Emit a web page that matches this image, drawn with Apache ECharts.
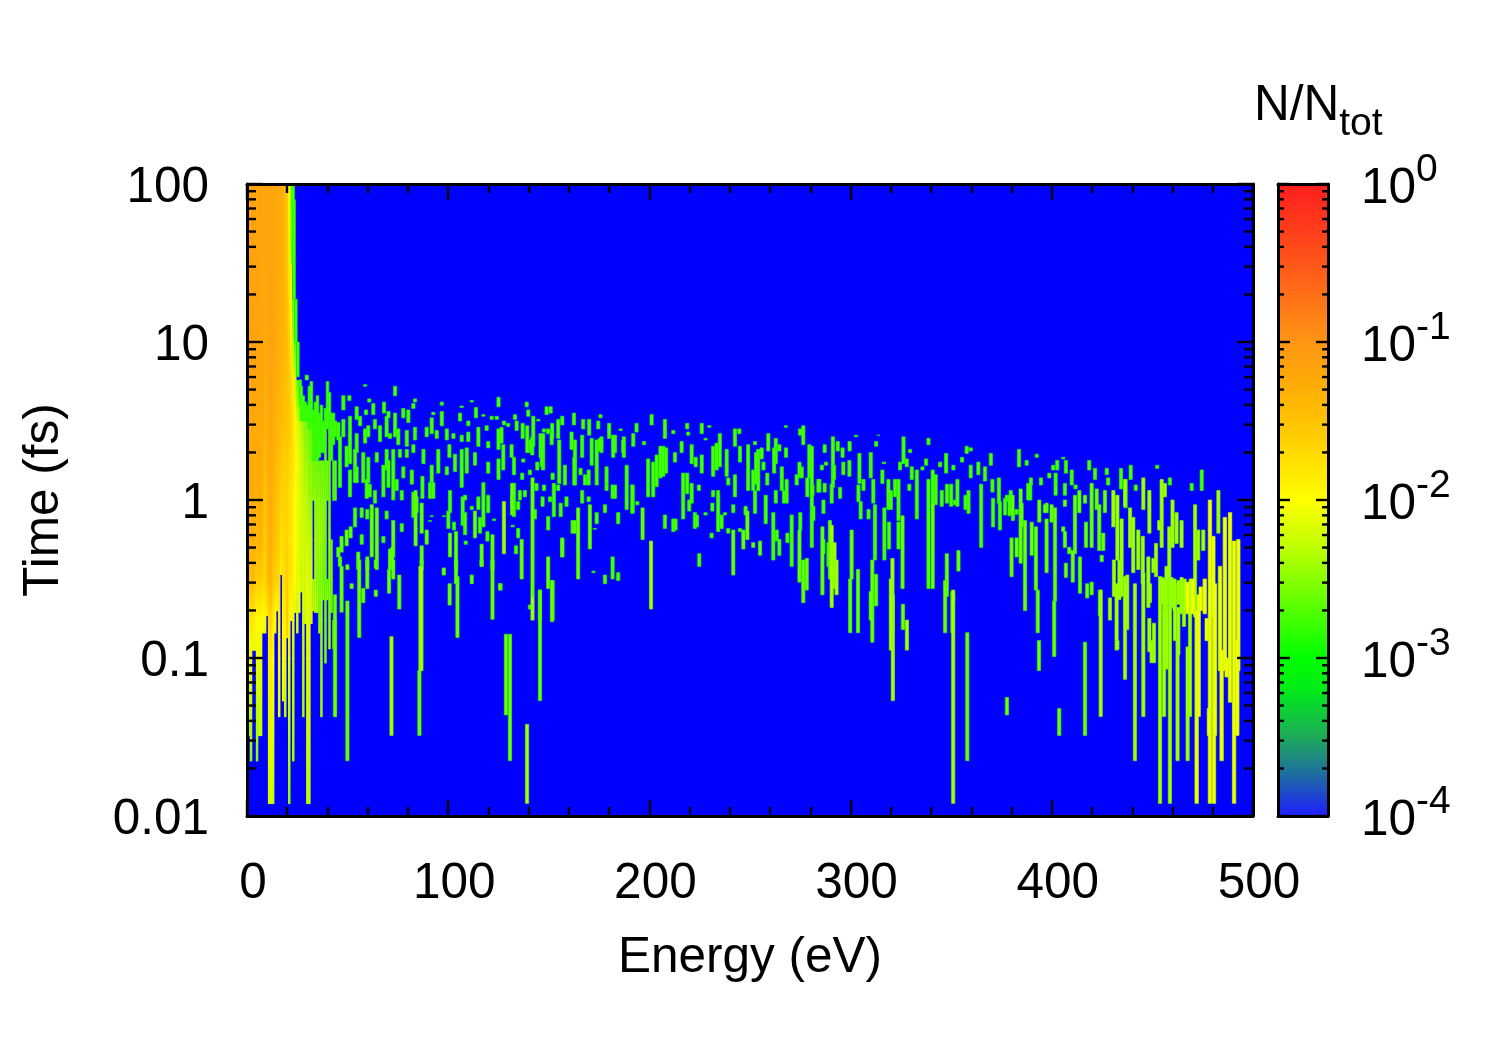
<!DOCTYPE html>
<html><head><meta charset="utf-8">
<script src="https://cdn.jsdelivr.net/npm/echarts@6/dist/echarts.min.js"></script>
<style>html,body{margin:0;background:#fff}#c{width:1500px;height:1050px}</style></head>
<body><div id="c"></div>
<script>
const xTickLabels=['0','100','200','300','400','500'];
const timeTickLabels={'-2':'0.01','-1':'0.1','0':'1','1':'10','2':'100'};
const minorTimeTicks=[0.02,0.03,0.04,0.05,0.06,0.07,0.08,0.09,0.2,0.3,0.4,0.5,0.6,0.7,0.8,0.9,2,3,4,5,6,7,8,9,20,30,40,50,60,70,80,90];
const minorBarTicks=[2e-4,3e-4,4e-4,5e-4,6e-4,7e-4,8e-4,9e-4,2e-3,3e-3,4e-3,5e-3,6e-3,7e-3,8e-3,9e-3,2e-2,3e-2,4e-2,5e-2,6e-2,7e-2,8e-2,9e-2,.2,.3,.4,.5,.6,.7,.8,.9];
// colour scale stops: log10(N/Ntot), colour
const scaleLogN=[-4,-3.75,-3.5,-3.2,-3,-2.6,-2.3,-2,-1.6,-1.3,-1,-0.5,0];
const scaleColors=[[30,30,255],[30,105,165],[30,170,90],[0,235,25],[0,255,0],[110,255,0],[190,255,0],[255,255,0],[255,205,0],[255,175,5],[255,150,20],[255,85,25],[255,30,30]];

// low-energy ridge: log10(time) knots and log10(N/Ntot) per 1 eV column
const ridgeLogTime=[2,1.27,1,0.76,0.5,0.25,0,-0.25,-0.5,-0.76,-1];
const ridgeEnergy=[0,1,2,3,4,5,6,7,8,9,10,11,12,13,14,15,16,17,18,19,20,21,22,23,24,25,26,27,28,29,30,31,32,33,34,35,36,37,38,39,40,41,42,43,44];
const ridgeBottomLogTime=[-1.49,-1.49,-1.65,-0.95,-0.95,-1.65,-1.49,-1.49,-0.84,-0.84,-0.73,-1.92,-1.92,-1.92,-0.84,-0.7,-1.37,-0.47,-1.27,-1.37,-0.87,-1.92,-0.76,-1.65,-0.71,-0.84,-0.71,-0.58,-1.37,-0.78,-1.92,-1.92,-0.78,-0.7,-0.71,-0.71,-0.84,-1.37,-0.63,-1.03,-0.63,-0.94,-0.71,-0.94,-1.37];
const ridgeTailLogN=[-2.4,-2.4,-2.5,-2.1,-2.1,-2.5,-2.35,-2.3,-2.1,-2.1,-1.9,-2.25,-2.2,-2.3,-2.1,-2,-2.1,-1.9,-2.15,-2.3,-1.7,-2.5,-2,-2.4,-2.1,-2.2,-2.1,-2.2,-2.4,-2.2,-2.3,-2.3,-2.2,-2.3,-2.3,-2.3,-2.4,-2.4,-2.5,-2.5,-2.5,-2.4,-2.6,-2.6,-2.6];
const ridgeLogN=[
[-1.2,-1.2,-1.2,-1.25,-1.25,-1.3,-1.35,-1.4,-1.55,-1.9,-2.1],
[-1.2,-1.2,-1.2,-1.2,-1.2,-1.3,-1.3,-1.4,-1.5,-1.85,-2],
[-1.15,-1.15,-1.15,-1.2,-1.25,-1.25,-1.25,-1.3,-1.45,-1.8,-2.05],
[-1.15,-1.15,-1.2,-1.2,-1.2,-1.25,-1.25,-1.3,-1.4,-1.8,null],
[-1.15,-1.2,-1.15,-1.15,-1.25,-1.3,-1.3,-1.35,-1.5,-1.9,null],
[-1.2,-1.15,-1.15,-1.2,-1.2,-1.25,-1.3,-1.4,-1.6,-2,-2.1],
[-1.15,-1.15,-1.2,-1.2,-1.25,-1.25,-1.25,-1.35,-1.55,-1.95,-2.1],
[-1.15,-1.15,-1.15,-1.15,-1.2,-1.2,-1.25,-1.3,-1.6,-2,-2.1],
[-1.2,-1.2,-1.2,-1.2,-1.2,-1.3,-1.4,-1.45,-1.65,-2,null],
[-1.15,-1.2,-1.25,-1.3,-1.35,-1.4,-1.5,-1.6,-1.7,-1.95,null],
[-1.2,-1.2,-1.2,-1.25,-1.3,-1.35,-1.4,-1.45,-1.5,null,null],
[-1.15,-1.15,-1.2,-1.2,-1.2,-1.25,-1.3,-1.3,-1.4,-1.7,-1.85],
[-1.15,-1.15,-1.15,-1.15,-1.2,-1.25,-1.25,-1.3,-1.35,-1.65,-1.85],
[-1.2,-1.15,-1.15,-1.2,-1.25,-1.3,-1.35,-1.4,-1.5,-1.85,-2],
[-1.2,-1.2,-1.2,-1.25,-1.3,-1.35,-1.4,-1.5,-1.6,-2,null],
[-1.2,-1.25,-1.25,-1.3,-1.35,-1.45,-1.5,-1.55,-1.65,null,null],
[-1.25,-1.25,-1.3,-1.3,-1.4,-1.45,-1.55,-1.6,-1.7,-1.9,-2],
[-1.25,-1.3,-1.3,-1.35,-1.4,-1.55,-1.65,-1.75,null,null,null],
[-1.3,-1.3,-1.35,-1.4,-1.45,-1.6,-1.65,-1.7,-1.75,-1.9,-2],
[-1.4,-1.4,-1.4,-1.45,-1.5,-1.6,-1.65,-1.7,-1.7,-1.9,-2.1],
[-1.55,-1.5,-1.45,-1.5,-1.5,-1.6,-1.65,-1.65,-1.6,-1.55,null],
[-1.95,-1.7,-1.6,-1.55,-1.55,-1.65,-1.75,-1.75,-1.75,-1.85,-2.1],
[-2.5,-2,-1.85,-1.7,-1.65,-1.7,-1.8,-1.8,-1.8,-2,null],
[null,-2.65,-2.35,-1.9,-1.8,-1.8,-1.9,-1.9,-1.9,-2.1,-2.25],
[null,null,-2.7,-2.2,-1.95,-1.9,-2,-2,-2,null,null],
[null,null,null,-2.55,-2.1,-2,-2.05,-2.05,-2.1,-2.2,null],
[null,null,null,-2.7,-2.2,-2.1,-2.1,-2.1,-2.1,null,null],
[null,null,null,null,-2.3,-2.2,-2.2,-2.2,-2.2,null,null],
[null,null,null,null,-2.45,-2.3,-2.25,-2.2,-2.2,-2.25,-2.3],
[null,null,null,null,-2.5,-2.4,-2.25,-2.2,-2.2,-2.2,null],
[null,null,null,null,-2.55,-2.4,-2.3,-2.2,-2.1,-2.1,-2.15],
[null,null,null,null,-2.6,-2.5,-2.4,-2.25,-2.15,-2.1,-2.15],
[null,null,null,null,-2.6,-2.5,-2.45,-2.3,-2.2,-2.2,null],
[null,null,null,null,null,-2.55,-2.45,null,-2.4,null,null],
[null,null,null,null,-2.65,-2.6,-2.45,-2.4,-2.4,null,null],
[null,null,null,null,null,-2.55,-2.5,-2.4,-2.5,null,null],
[null,null,null,null,null,-2.65,-2.45,-2.4,-2.5,-2.6,null],
[null,null,null,null,null,-2.6,-2.5,-2.4,-2.5,-2.45,-2.45],
[null,null,null,null,null,-2.6,-2.5,-2.5,-2.6,null,null],
[null,null,null,null,-2.7,-2.65,-2.5,-2.55,-2.6,-2.6,null],
[null,null,null,null,null,-2.6,-2.6,null,-2.6,null,null],
[null,null,null,null,-2.7,-2.65,-2.6,-2.5,-2.55,-2.5,null],
[null,null,null,null,null,-2.7,null,-2.65,-2.6,null,null],
[null,null,null,null,null,-2.7,-2.7,null,null,-2.6,null],
[null,null,null,null,null,-2.7,-2.7,null,null,-2.65,-2.6]];

// streaks: [energy eV, log10 time at top, log10 time at bottom]
const edgeStreaks=[[22.9,2,1.5],[23.4,1.9,1.27],[24.3,1.27,1],[25.3,1,0.78],[26.5,0.76,0.6],[27,.72,.5],[28,.66,.5],[29,.62,.5],[30,.6,.5],[31,.72,.45],[32,.75,.5],[33,.57,.25],[34,.62,.5],[35,.66,.25],[36,.55,.27],[37,.6,.3],[38,.5,.3],[39,.58,.5],[40,.75,.45],[41,.68,.5],[42,.55,.25],[43,.55,.35],[44,.5,.4]];
const greenStreaks=[
[29.7,.79,.76],[47.9,.66,.57],[50.9,.66,.63],[58.7,.73,.72],[60.8,.64,.62],[62.8,.61,.54],[68.1,.62,.55],[73.6,.72,.66],[83.5,.64,.62],[82.7,.61,.58],[96.8,.62,.6],[106.7,.595,.585],[111.7,.63,.62],[125,.65,.59],[113.8,.585,.52],[117.5,.54,.53],[121.6,.53,.51],[124.1,.53,.51],
[54.5,.59,.51],[59.2,.57,.54],[63.6,.51,.45],[70.3,.56,.52],[73.6,.55,.4],[77.7,.58,.52],[80.2,.57,.49],[92.6,.555,.54],[96.8,.56,.47],[105.9,.55,.5],[110,.5,.47],[119.1,.47,.44],
[45.4,.49,.38],[47.9,.51,.4],[51.2,.53,.23],[54.5,.42,.3],[56.2,.53,.47],[58.7,.45,.36],[60.3,.47,.4],[66.1,.47,.37],[69.4,.53,.4],[71.1,.42,.39],[75.2,.45,.35],[79.4,.44,.34],[83.5,.46,.38],[89.3,.46,.4],[91.8,.52,.42],[94.3,.44,.39],[99.3,.45,.38],[102.6,.42,.39],[106.7,.41,.37],[110,.43,.37],[115,.46,.34],[119.9,.37,.33],[125,.45,.32],
[46.2,.4,.08],[49.5,.34,.21],[53.7,.32,.11],[57.8,.3,.11],[60.3,.27,.11],[64.5,.3,.24],[69.4,.32,.19],[72.7,.32,0],[76,.32,.27],[79.4,.32,.27],[82.7,.35,.3],[87.7,.32,.23],[91.8,.22,.11],[95.1,.32,.17],[99.3,.21,.16],[100.6,.35,.27],[103.4,.29,.18],[106.7,.32,.08],[109.2,.33,.17],[113.3,.3,.22],[119.9,.24,.17],[125,.26,.13],
[77.7,.21,.14],[81.9,.19,.1],[51.2,.19,.02],[54.5,.21,.11],[59.5,.13,.01],[67.8,.22,.02],[70.3,.25,.08],[74.4,.13,.06],[87.2,.15,.01],[91,.11,.01],[92.6,.11,.01],[100.9,.06,-.08],[107.2,.02,-.16],[108.4,.03,0],[115,.02,-.06],[117.5,.11,-.17],[119.9,.03,-.08],
[61,.1,.02],[63.6,.06,-.02],[76.9,.06,0],[82.7,.05,-.11],[84.3,.02,-.08],[53.7,-.05,-.17],[57,-.05,-.11],[59.8,-.06,-.12],[69.4,-.07,-.12],[76.9,-.15,-.2],[91.8,-.1,-.105],[97.9,-.1,-.105],[91,-.13,-.135],[100.1,-.07,-.18],[102.9,-.14,-.19],[108.4,-.08,-.22],[108.7,-.26,-.28],[111.7,-.04,-.06],[115.8,-.11,-.21],[119.5,-.2,-.26],[122.8,-.12,-.13],[57,-.22,-.28],[67.8,-.23,-.27],
// 125 - 255 eV
[139,.62,.59],[139.8,.57,.53],[148.9,.59,.54],[150.9,.59,.55],[133.2,.54,.51],[134,.5,.44],[137,.485,.39],[139.3,.47,.3],[142.3,.53,.34],[141.8,.4,.285],[141,.38,.3],[145.9,.42,.27],[147.2,.42,.19],[146.5,.32,.21],[154.7,.51,.39],[156.7,.53,.475],[151.7,.485,.39],[149.7,.45,.42],[147.6,.45,.43],[144.8,.51,.5],[162.5,.55,.475],[167.1,.51,.45],[170.1,.51,.41],[174.6,.5,.45],[175.7,.54,.52],[180,.485,.39],[185.7,.45,.44],[193.6,.485,.43],[192,.42,.34],[187.3,.40,.27],[182.9,.41,.3],[201.1,.54,.475],[207.7,.51,.39],[211.9,.44,.42],[218.8,.485,.45],[219.3,.43,.41],[226,.485,.42],[229.8,.47,.46],[126.5,.46,.36],[127.7,.5,.475],[129.8,.485,.465],
[161.3,.43,.32],[163,.38,.095],[166.6,.41,.27],[171.3,.39,.22],[173.8,.38,.095],[176.2,.4,.3],[178.7,.21,.095],[175.4,.39,.31],[182,.41,.27],[187,.38,.3],[197.3,.37,.35],[205.5,.34,.14],[206.9,.34,.15],[208.3,.33,.17],[212.7,.3,.24],[216,.37,.3],[221,.35,.23],[223,.27,.21],[226,.285,.17],[227.9,.39,.38],[231.7,.34,.15],[233.4,.36,.19],[235,.42,.21],[238.4,.32,.15],[242.5,.45,.34],[244.7,.45,.42],[245,.34,.24],[249.1,.35,.06],[252.5,.37,.35],[251.6,.19,.06],[254.1,.32,.06],[253,.3,.1],
[127.4,.35,.19],[131.5,.35,.27],[132.7,.27,.16],[137.3,.26,.24],[144.3,.24,.19],[151.4,.42,.35],[155.2,.38,.105],[158,.22,.095],[136.8,.17,.13],[140.6,.19,.16],[151.9,.17,.13],[162.7,.27,.095],[165.8,.2,.16],[168,.16,.095],[169.8,.19,.095],
[181.7,.095,.01],[191.6,.095,-.085],[188.7,.22,-.06],[199.4,.26,.02],[201.9,.24,.02],[203.6,.285,.085],
[216.8,.17,-.12],[218.8,.17,.04],[221,.105,-.02],[224.6,.095,.06],[231.7,.06,.02],[234.2,.06,-.2],[235.9,-.095,-.18],[239.2,.14,.095],[242.5,.16,.02],[252.5,.06,-.085],[241.7,-.03,-.08],
[132.7,.105,-.105],[135.6,.06,0],[138.1,.06,.02],[143.9,.105,.06],[147.6,.095,.06],[154.7,.095,.06],[152.5,.105,-.105],[155.9,-.02,-.105],[158.8,.02,-.04],[146.9,.02,-.04],[150.6,.02,-.01],[131.8,.02,-.05],[134.8,-.01,-.06],[166.6,.06,-.02],[169.8,.02,-.01],[178.7,.095,.06],[182.9,.095,.01],[177.9,-.03,-.08],[191.6,.095,-.08],[194,-.01,-.03],[173.8,-.08,-.15],[184.5,-.08,-.15],[207.7,-.095,-.18],[211.9,-.12,-.2],[213,-.12,-.19],[219.8,0,-.07],[222.6,-.08,-.18],[223.6,-.095,-.17],[231.3,-.02,-.07],[227.9,-.08,-.095],[237.6,-.08,-.095],[239.2,-.18,-.21],[245,-.18,-.2],[247.8,-.04,-.095],[230.9,-.21,-.24],[224.8,-.34,-.42],[149.7,-.105,-.19],[143.1,-.06,-.12],[161.8,-.13,-.21],[132,-.16,-.17],[134.8,-.18,-.24],[133.7,-.29,-.34],[172.9,-.18,-.185],[181.7,-.36,-.5],[184.5,-.46,-.51],[177.9,-.475,-.53],[172.2,-.45,-.46],[140.6,-.665,-.69],[126,-.53,-.57],[156.7,-.25,-.36],
// 255 - 380 eV
[267.8,.47,.46],[276.5,.47,.35],[274.9,.45,.41],[259.1,.42,.31],[262.8,.39,.23],[264.6,.35,.31],[255.8,.33,.26],[256.7,.24,.19],[262,.33,.17],[265.8,.21,.06],[267.9,.33,.27],[274.6,.24,.14],[275.7,.21,.14],[279.5,.35,.14],[258.6,.17,.095],[273.2,.16,.095],[268.2,.13,-.02],[281.1,.095,.03],[287.1,.105,.05],[280.7,.34,-.3],[278.5,.14,.02],[287.8,.24,.22],[285.7,.22,.19],[284.5,.13,.05],[284,.13,.05],[287.1,.35,.3],[291.2,.4,.08],[293.6,.37,.31],[296,.33,.27],[299.5,.37,.31],[302.7,.41,.4],[296.4,.24,.16],[299.4,.25,.15],[291.8,.22,.13],[294.8,.08,.01],[290.6,.1,-.02],[286.5,0,-.085],[281.5,-.04,-.13],[257.8,.03,-.15],[262.8,.06,-.02],[266.9,.06,-.02],
[304.4,.295,.105],[303.9,.095,-.01],[305,-.01,-.12],[308.9,-.06,-.12],[306.4,.13,.06],[310,.3,.14],[311.3,.13,-.02],[312.7,.37,.34],[313.8,.41,.41],[316.6,.24,.23],[315.8,.19,.105],[318.8,.13,-.06],[320,.06,-.06],[323.8,.13,-.13],[322.1,.13,.02],[326.3,.4,.23],[324.6,.24,.19],[327.9,.26,.21],[329.6,.32,.3],[332.9,.19,-.12],[330.4,.21,.13],[329.2,.1,.06],[335.7,.21,.19],[337.5,.26,.22],[338.7,.39,.35],[338.7,.13,-.56],[340.8,.19,-.02],[342.3,.16,-.03],[344.5,.24,.21],[347.5,.295,.17],[345.3,.06,-.04],[347.9,.1,-.02],[350,.1,-.04],[353.1,.13,-.04],[351.1,.22,.19],[355.4,.27,.24],[357.7,.34,.295],[359.7,.33,.31],[359.7,.22,.14],[363.5,.24,.16],[366.8,.21,.12],[358.6,.06,-.085],[357.1,.03,-.06],[351.9,0,-.03],[364.9,.1,-.3],[369.7,.295,.22],[370.5,.13,.05],[373.7,.14,-.02],[376.8,.01,-.095],[379.6,.06,0],[377.6,.03,-.01],[382.5,-.06,-.09],
[370.8,.01,-.17],[374.2,-.01,-.19],[379,.03,-.1],[380.7,-.085,-.13],
[261.6,-.08,-.38],[263.3,-.19,-.26],[264.6,-.25,-.35],[268.6,-.21,-.27],[270.7,-.095,-.42],[275,-.08,-.19],[286.5,-.25,-.34],[289,-.27,-.42],[312.1,-.03,-.38],[316.8,-.05,-.38],[319.1,-.14,-.31],[323.8,-.14,-.31],
// 380 - 500 eV, upper part
[383.7,.32,.21],[387.5,.25,.22],[392.5,.29,.27],[402.7,.25,.19],[400.7,.22,.19],[405.7,.27,.26],[407,.25,.17],[409.9,.19,.095],[418.6,.25,.19],[388.3,.105,0],[389.3,.105,0],[389.6,.14,.095],[394.6,.14,.095],[398.8,.17,.14],[401.9,.17,.03],[406.5,.105,.03],[411.8,.095,.07],[421.5,.2,.13],[427.3,.2,.16],[428,.14,.095],[434.4,.2,.07],[436.7,.13,-.05],[439.2,.22,.13],[441.7,.095,.06],[452.4,.22,.2],[458.7,.14,.095],[469.5,.105,.06],[474.5,.19,.06]
];
const limeStreaks=[
[49.5,-.19,-.29],[51.5,-.17,-.24],[47,-.23,-.33],[62,-.03,-.36],[64.5,-.05,-.44],[72.7,-.13,-.36],[83.8,.06,-.29],[86.8,-.02,-.21],[89.3,-.19,-.28],[86.8,-.29,-.44],[100.9,-.21,-.36],[103.9,-.2,-.44],[113.3,-.07,-.24],[122,-.22,-.44],[116.6,-.28,-.42],[55.3,-.33,-.44],[59.8,-.36,-.44],[46.2,-.36,-.39],[45.4,-.3,-.36],[71.1,-.31,-.44],[72.2,-.3,-.44],
[47,-.42,-.71],[46.2,-.38,-.42],[55.8,-.38,-.87],[57.8,-.56,-.65],[59.8,-.38,-.56],[64,-.38,-.43],[64,-.57,-.61],[49.9,-.41,-.44],[52,-.53,-.56],[70.6,-.44,-.59],[72.7,-.38,-.5],[75.7,-.475,-.69],[85.7,-1.08,-1.49],[86.8,-.38,-.41],[100.7,-.53,-.665],[104.6,-.485,-.87],[103.9,-.38,-.53],[97.8,-.43,-.475],[116.6,-.38,-.42],[111.7,-.475,-.53],[122,-.38,-.755],[125.8,-.53,-.57],[49.9,-.64,-1.65],[43.7,-.6,-1.37],
[136.5,-.25,-.5],[141.9,.14,-.61],[131.8,.105,-.095],[162.8,-.13,-.21],[149.7,-.36,-.56],[151.9,-.51,-.76],[145.6,-.57,-.76],[156.7,-.24,-.36],[196.6,-.05,-.25],[164.6,-.05,-.5],[170.4,-.03,-.31],[241.7,-.19,-.475],[246.7,-.19,-.31],[248.7,-.07,-.25],
[251.6,-.27,-.3],[255,-.26,-.35],[274.6,-.19,-.52],[276.5,-.38,-.65],[278.2,-.37,-.57],[286,-.17,-.6],[299.8,-.5,-.84],[310.8,-.38,-.9],[312.7,-.47,-.67],[310,-.58,-.76],[325.8,-.1,-.56],[340.8,-.02,-.56],[347.8,-.34,-.61],[353.6,-.32,-.45],[350.6,-.58,-.84],[351,-.6,-.64],[300.5,-.19,-.5],[289.7,-.13,-.5],
[128.7,-.85,-1.36],[130.7,-.85,-1.65],[145.6,-.57,-1.27],[151.6,-.51,-.77],[303.7,-.44,-.84],[326,-.66,-.82],[347,-.51,-.84],[358,-.84,-1.65],[377.7,-1.25,-1.36],
[380.5,.03,-.095],[384.5,.07,-.4],[385,-.02,-.17],[393.8,0,-.14],[397.4,-.02,-.08],[399.9,-.03,-.14],[401.6,-.05,-.64],[406.5,0,-.04],[405.7,-.17,-.2],[406.5,-.2,-.3],[411.5,.03,-.34],[413.7,.06,-.08],[416.5,.03,-.02],[419.8,.105,-.3],[422.3,.07,-.06],[426.4,.06,-.08],[380,-.24,-.485],[382.5,-.24,-.36],[386.7,-.13,-.7],[390,-.14,-.35],[392.1,-.17,-.57],[393,-.57,-.84],[396.6,-.03,-.08],[397.4,-.12,-.46],[408.7,-.3,-.34],[410.4,-.32,-.52],[414,-.36,-.59],[407,-.4,-.49],[417.6,-.53,-.62],[419.8,-.52,-.6],[417,-.14,-.3],[423.6,-.03,-.32],[424.8,-.35,-.39],[425.6,-.21,-.32],[423.9,-.57,-.73],[393.6,-.89,-1.08],[401.2,-.64,-.99],[416.5,-.9,-1.49],[403.7,-1.32,-1.49]
];
const yellowGreenStreaks=[
[71.8,-.865,-1.49],[86.2,-.42,-1.08],[86.7,-.42,-1.08],[139.2,-1.42,-1.92],
[127.7,-.01,-.34],[200.8,-.26,-.69],[141.9,-.61,-.76],[351,-.57,-1.92],[321,-.6,-1.27],
[290.6,-.16,-.68],[292,-.27,-.56],[293,-.38,-.6],[320.8,-.37,-.83],[320,-.5,-.95],[328,-.76,-.95],
[430.6,.06,-.17],[432.6,.03,-.38],[430.9,-.38,-.61],[436.4,.13,-.04],[434.7,-.12,-.61],[438.9,-.05,-.3],[437.5,-.475,-.82],[433.6,-.38,-.63],[440.5,-.11,-.46],[443,-.19,-.44],[445.2,-.23,-.53],[445.5,.14,-.06],[448.5,.06,-.21],[448,-.36,-.68],[451.8,-.275,-.485],[450.5,-.37,-.46],[454.6,.13,-.3],[456.2,.105,.02],[453.4,-.13,-.19],[460,0,-.3],[458.4,-.17,-.65],[462,-.08,-.275],[464.5,-.13,-.3],[471.2,-.03,-.17],[472.8,-.19,-.38],[475.3,-.19,-.32],[482.8,.06,-.21],
[428.9,-.62,-.76],[432.2,-.53,-.95],[436.4,-.485,-1.135],[441.3,-.53,-1.65],[445.5,-.46,-1.37],[448.8,-.53,-.65],[448.5,-.75,-.96],[450.8,-.78,-1.03],[449.6,-.89,-1.03],[453.8,-.485,-1.92],[455.8,-.53,-1.37],[458.7,-.55,-1.92],[461.2,-.53,-.89],[462.5,-.89,-1.65],[462.9,-.68,-.98],[465.7,-.55,-.8],[467.5,-.93,-1.65],[457,-.42,-1.07],[424.3,-.57,-1.37],[432.6,-.89,-.945],[468.7,-.53,-1.37],[471.2,-.17,-.74],
[455,-.49,-.66],[456.5,-.5,-.7],[459.5,-.49,-.68],[461,-.5,-.7],[463,-.51,-.66],[464.5,-.49,-.72],[466,-.5,-.7],[469,-.5,-.7]
];
const yellowStreaks=[
[467.5,-.52,-.72],[470,-.5,-.72],[472,-.7,-1.92],[473,-.6,-1.37],[474,-.55,-.7],[476,-.5,-.72],[477,-.75,-.89],[478.6,0,-1.92],[478.1,-1.32,-1.49],[480.3,-.23,-.74],[480.6,-.7,-1.92],[481.1,-.53,-1.49],[483.6,-.42,-1.08],[484.4,-.95,-1.65],
[486,-.11,-1.08],[486.9,-1,-1.12],[488.6,-.08,-1.28],[490.6,-.26,-1.92],[492.7,-.25,-1.08],[492.2,-.89,-1.49]
];

const lerp=(a,b,t)=>a+(b-a)*t;
function colorOf(v){
  let i=0; while(i<scaleLogN.length-2&&v>scaleLogN[i+1]) i++;
  const t=Math.max(0,Math.min(1,(v-scaleLogN[i])/(scaleLogN[i+1]-scaleLogN[i])));
  const c=scaleColors[i],d=scaleColors[i+1];
  return 'rgb('+[0,1,2].map(k=>Math.round(lerp(c[k],d[k],t))).join(',')+')';
}
// rows: energy, time top, time bottom, logN top, logN bottom, half-width, edge flag
const rows=[];
ridgeEnergy.forEach((E,c)=>{
  const col=ridgeLogN[c]; let last=-1;
  for(let k=0;k<col.length;k++){
    if(col[k]==null) continue;
    if(k>0&&col[k-1]!=null) rows.push([E,Math.pow(10,ridgeLogTime[k-1]),Math.pow(10,ridgeLogTime[k]),col[k-1],col[k],0.62,0]);
    last=k;
  }
  rows.push([E,Math.pow(10,ridgeLogTime[last]),Math.pow(10,ridgeBottomLogTime[c]),col[last],ridgeTailLogN[c],0.62,0]);
});
const pushGroup=(g,v,w)=>g.forEach(s=>rows.push([s[0],Math.pow(10,s[1]),Math.pow(10,s[2]),v,v,w,1]));
pushGroup(edgeStreaks,-2.72,0.65);
pushGroup(greenStreaks,-2.72,0.8);
pushGroup(limeStreaks,-2.6,0.8);
pushGroup(yellowGreenStreaks,-2.38,0.8);
pushGroup(yellowStreaks,-2.05,0.85);

const BLK='#000',FS=49.5,SUP=39;
function tickSeries(name,xi,yi,ticks,x0,x1,len){
  return {type:'custom',name,xAxisIndex:xi,yAxisIndex:yi,z:30,silent:true,animation:false,clip:false,
    data:ticks.map(t=>[x0,t]),
    renderItem:(p,api)=>{
      const a=api.coord([x0,api.value(1)]),b=api.coord([x1,api.value(1)]);
      const st={stroke:BLK,lineWidth:2.4};
      return {type:'group',children:[
        {type:'line',shape:{x1:a[0],y1:a[1],x2:a[0]+len,y2:a[1]},style:st},
        {type:'line',shape:{x1:b[0],y1:b[1],x2:b[0]-len,y2:b[1]},style:st}]};
    }};
}
const axisLine={show:true,onZero:false,lineStyle:{color:BLK,width:3}};
const tickMaj={show:true,inside:true,length:16,lineStyle:{color:BLK,width:2.4}};
const minor={show:true,splitNumber:5,length:9,lineStyle:{color:BLK,width:2.4}};
const option={
  animation:false,backgroundColor:'#fff',
  textStyle:{fontFamily:'"Liberation Sans",Arial,sans-serif',color:BLK},
  title:{left:1249,top:72,text:'{n|N/N}{t|tot}',textStyle:{fontWeight:'normal',rich:{
    n:{fontSize:FS,fontWeight:'normal',fontFamily:'"Liberation Sans"',color:BLK,lineHeight:58},
    t:{fontSize:SUP,fontWeight:'normal',fontFamily:'"Liberation Sans"',color:BLK,padding:[36,0,0,0],lineHeight:58}}}},
  grid:[
    {left:247,top:184,width:1006,height:632,show:true,backgroundColor:'#0000ff',borderWidth:0},
    {left:1278,top:184,width:50,height:632,show:false}],
  xAxis:[
    {gridIndex:0,type:'value',min:0,max:500,interval:100,position:'bottom',z:20,
     axisLine,axisTick:tickMaj,minorTick:minor,splitLine:{show:false},minorSplitLine:{show:false},
     axisLabel:{color:BLK,fontSize:FS,margin:43,padding:[0,0,0,12],fontFamily:'"Liberation Sans"',
       formatter:v=>xTickLabels[v/100]},
     name:'Energy (eV)',nameLocation:'middle',nameGap:117,
     nameTextStyle:{fontSize:FS,color:BLK,fontFamily:'"Liberation Sans"'}},
    {gridIndex:0,type:'value',min:0,max:500,interval:100,position:'top',z:20,
     axisLine,axisTick:tickMaj,minorTick:minor,splitLine:{show:false},axisLabel:{show:false}},
    {gridIndex:1,type:'value',min:0,max:1,position:'bottom',z:20,axisLine,axisTick:{show:false},splitLine:{show:false},axisLabel:{show:false}},
    {gridIndex:1,type:'value',min:0,max:1,position:'top',z:20,axisLine,axisTick:{show:false},splitLine:{show:false},axisLabel:{show:false}}],
  yAxis:[
    {gridIndex:0,type:'log',logBase:10,min:0.01,max:100,position:'left',z:20,
     axisLine,axisTick:tickMaj,splitLine:{show:false},minorTick:{show:false},
     axisLabel:{color:BLK,margin:38,padding:[8,0,0,0],
       formatter:v=>'{a|'+timeTickLabels[String(Math.round(Math.log10(v)))]+'}',
       rich:{a:{fontSize:FS,fontFamily:'"Liberation Sans"',color:BLK,lineHeight:50}}},
     name:'Time (fs)',nameLocation:'middle',nameGap:178,nameRotate:90,
     nameTextStyle:{fontSize:FS,color:BLK,fontFamily:'"Liberation Sans"'}},
    {gridIndex:0,type:'log',logBase:10,min:0.01,max:100,position:'right',z:20,
     axisLine,axisTick:tickMaj,splitLine:{show:false},minorTick:{show:false},axisLabel:{show:false}},
    {gridIndex:1,type:'log',logBase:10,min:1e-4,max:1,position:'left',z:20,
     axisLine,axisTick:{show:true,inside:true,length:12,lineStyle:{color:BLK,width:2.4}},splitLine:{show:false},minorTick:{show:false},axisLabel:{show:false}},
    {gridIndex:1,type:'log',logBase:10,min:1e-4,max:1,position:'right',z:20,
     axisLine,axisTick:{show:true,inside:true,length:12,lineStyle:{color:BLK,width:2.4}},splitLine:{show:false},minorTick:{show:false},
     axisLabel:{color:BLK,margin:33,align:'left',padding:[10,0,0,0],
       formatter:v=>'{b|10}{s|'+Math.round(Math.log10(v))+'}',
       rich:{b:{fontSize:FS,fontFamily:'"Liberation Sans"',color:BLK,verticalAlign:'bottom',lineHeight:50},
             s:{fontSize:SUP,fontFamily:'"Liberation Sans"',color:BLK,verticalAlign:'bottom',lineHeight:50,padding:[0,0,24,0]}}}}],
  series:[
    {type:'custom',name:'N/Ntot',xAxisIndex:0,yAxisIndex:0,z:5,silent:true,animation:false,clip:true,
     data:rows,encode:{x:0,y:1},
     renderItem:(p,api)=>{
       const E=api.value(0),w=api.value(5),edge=api.value(6);
       const a=api.coord([E-w,api.value(1)]),b=api.coord([E+w,api.value(2)]);
       const v0=api.value(3),v1=api.value(4);
       const style={fill:{type:'linear',x:0,y:0,x2:0,y2:1,colorStops:[
           {offset:0,color:colorOf(v0)},{offset:1,color:colorOf(v1)}]}};
       if(edge){style.stroke=colorOf(v0-0.22);style.lineWidth=0.7;}
       return {type:'rect',shape:{x:a[0],y:a[1],width:b[0]-a[0],height:b[1]-a[1]+(edge?0:0.7)},style};
     }},
    {type:'custom',name:'colour scale',xAxisIndex:2,yAxisIndex:2,z:5,silent:true,animation:false,
     data:scaleLogN.slice(0,-1).map((v,i)=>[0,Math.pow(10,v),Math.pow(10,scaleLogN[i+1]),i]),
     renderItem:(p,api)=>{
       const i=api.value(3);
       const a=api.coord([0,api.value(2)]),b=api.coord([1,api.value(1)]);
       return {type:'rect',shape:{x:a[0],y:a[1],width:b[0]-a[0],height:b[1]-a[1]+0.5},
         style:{fill:{type:'linear',x:0,y:0,x2:0,y2:1,colorStops:[
           {offset:0,color:colorOf(scaleLogN[i+1])},{offset:1,color:colorOf(scaleLogN[i])}]}}};
     }},
    tickSeries('time ticks',0,0,minorTimeTicks,0,500,9),
    tickSeries('scale ticks',2,2,minorBarTicks,0,1,6)
  ]
};
const chart=echarts.init(document.getElementById('c'),null,{renderer:'canvas'});
chart.setOption(option);
</script></body></html>
